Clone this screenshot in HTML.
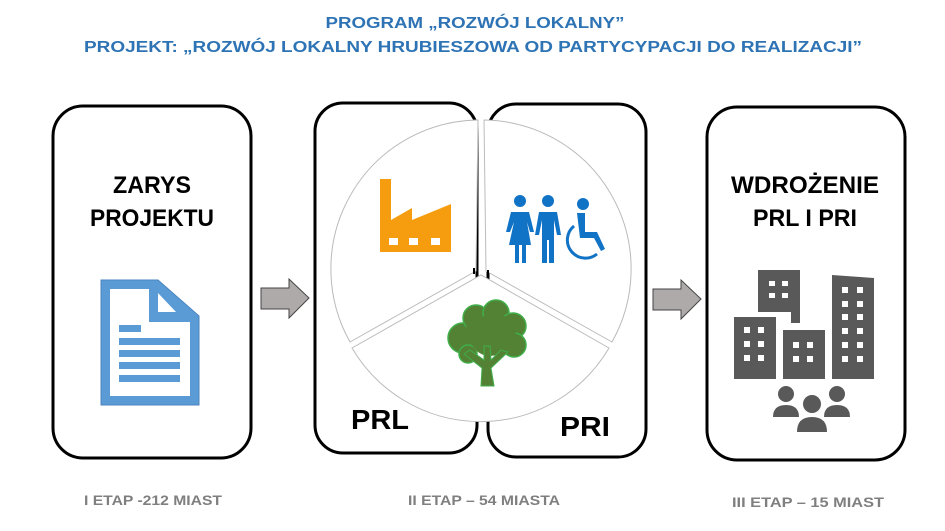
<!DOCTYPE html>
<html><head><meta charset="utf-8"><style>html,body{margin:0;padding:0;background:#fff}svg{display:block}</style></head>
<body>
<svg width="945" height="531" viewBox="0 0 945 531" xmlns="http://www.w3.org/2000/svg" font-family="Liberation Sans, sans-serif">
<text x="475" y="28" text-anchor="middle" font-size="16" font-weight="bold" fill="#2E74B5" textLength="299" lengthAdjust="spacingAndGlyphs">PROGRAM „ROZWÓJ LOKALNY”</text>
<text x="473" y="52" text-anchor="middle" font-size="16" font-weight="bold" fill="#2E74B5" textLength="778" lengthAdjust="spacingAndGlyphs">PROJEKT: „ROZWÓJ LOKALNY HRUBIESZOWA OD PARTYCYPACJI DO REALIZACJI”</text>

<!-- box 1 -->
<rect x="53" y="106" width="198" height="352" rx="30" fill="#fff" stroke="#000" stroke-width="3"/>
<text x="152" y="193" text-anchor="middle" font-size="24" font-weight="bold" textLength="78" lengthAdjust="spacingAndGlyphs">ZARYS</text>
<text x="152" y="226" text-anchor="middle" font-size="24" font-weight="bold" textLength="124" lengthAdjust="spacingAndGlyphs">PROJEKTU</text>
<path d="M101 280 H158 L199 316 V405 H101 Z" fill="#5B9BD5" stroke="#4A86C0"/>
<path d="M110 289 H149 V322 H190 V396 H110 Z" fill="#fff"/>
<path d="M158 293 L176 312 H158 Z" fill="#fff"/>
<rect x="119" y="325" width="22" height="7" fill="#5B9BD5"/>
<rect x="119" y="338" width="61" height="7" fill="#5B9BD5"/>
<rect x="119" y="350" width="61" height="7" fill="#5B9BD5"/>
<rect x="119" y="362" width="61" height="7" fill="#5B9BD5"/>
<rect x="119" y="375" width="61" height="7" fill="#5B9BD5"/>

<!-- arrows -->
<path d="M261 288 H289 V279 L309 298 L289 318 V309 H261 Z" fill="#AEAAAA" stroke="#444" stroke-width="1"/>
<path d="M653 289 H681 V280 L701 299 L681 319 V310 H653 Z" fill="#AEAAAA" stroke="#444" stroke-width="1"/>

<!-- PRL / PRI boxes -->
<rect x="315" y="103" width="162" height="350" rx="28" fill="#fff" stroke="#000" stroke-width="3"/>
<rect x="488" y="104" width="158" height="353" rx="28" fill="#fff" stroke="#000" stroke-width="3"/>

<!-- pie -->
<g stroke="#bbb" stroke-width="1" fill="#fff">
<path d="M478 120 A149 149 0 0 0 350 342 L476 271 Z"/>
<path d="M484 120 A149 149 0 0 1 612 342 L486 271 Z"/>
<path d="M352 348 A149 149 0 0 0 609 348 L481 275 Z"/>
</g>
<rect x="473" y="268" width="2" height="6" fill="#000"/>
<rect x="487" y="270" width="2" height="6" fill="#000"/>

<!-- factory -->
<path d="M380 252 V179 H391 V220 L412 208 V220 L451 204 V252 Z" fill="#F59D0E"/>
<rect x="389" y="238" width="9" height="7" fill="#fff"/>
<rect x="409" y="238" width="9" height="7" fill="#fff"/>
<rect x="431" y="238" width="9" height="7" fill="#fff"/>

<!-- people -->
<g fill="#1173C5">
<circle cx="520" cy="201" r="6"/>
<path d="M511 212 H529 L534 232 H530 L527 222 L531 245 H526 V263 H522 V245 H519 V263 H515 V245 H509 L514 222 L510 232 H506 Z"/>
<circle cx="548" cy="201" r="6"/>
<path d="M539 212 H557 L561 235 H557 L554 220 V263 H549 V240 H547 V263 H542 V220 L539 235 H535 Z"/>
<circle cx="583" cy="204" r="6"/>
<path d="M577 213 H585 L585 232 H597 L605 249 L601 251 L594 238 H580 Z"/>
<path d="M574 226 A18 18 0 1 0 597 254" fill="none" stroke="#1173C5" stroke-width="3"/>
</g>

<!-- tree -->
<g fill="#548235">
<g stroke="#3fae49" stroke-width="1.5">
<circle cx="463" cy="338" r="15"/><circle cx="476" cy="318" r="13"/><circle cx="496" cy="313" r="13"/>
<circle cx="513" cy="326" r="13"/><circle cx="514" cy="345" r="12"/><circle cx="468" cy="354" r="9"/>
</g>
<circle cx="490" cy="336" r="20"/><circle cx="480" cy="330" r="14"/><circle cx="502" cy="330" r="14"/>
<path d="M481 386 H494 L491 368 L508 352 L501 350 L491 360 L490 346 H484 L484 360 L470 350 L464 354 L482 368 Z" stroke="#3fae49" stroke-width="1"/>
</g>

<text x="351" y="429" font-size="28" font-weight="bold" textLength="58" lengthAdjust="spacingAndGlyphs">PRL</text>
<text x="560" y="436" font-size="28" font-weight="bold" textLength="50" lengthAdjust="spacingAndGlyphs">PRI</text>

<!-- box 4 -->
<rect x="707" y="107" width="198" height="353" rx="30" fill="#fff" stroke="#000" stroke-width="3"/>
<text x="805" y="193" text-anchor="middle" font-size="24" font-weight="bold" textLength="148" lengthAdjust="spacingAndGlyphs">WDROŻENIE</text>
<text x="805" y="226" text-anchor="middle" font-size="24" font-weight="bold" textLength="104" lengthAdjust="spacingAndGlyphs">PRL I PRI</text>
<g fill="#595959">
<path d="M758 270 H800 V323 H791 V312 H758 Z"/>
<rect x="734" y="317" width="42" height="62"/>
<rect x="783" y="330" width="42" height="49"/>
<path d="M832 275 L874 278 V379 H832 Z"/>
<circle cx="786" cy="394" r="8"/><path d="M773 417 Q773 405 786 405 Q799 405 799 417 Z"/>
<circle cx="837" cy="394" r="8"/><path d="M824 417 Q824 405 837 405 Q850 405 850 417 Z"/>
<circle cx="812" cy="404" r="9"/><path d="M797 432 Q797 417 812 417 Q827 417 827 432 Z"/>
</g>
<g fill="#fff">
<rect x="769" y="281" width="6" height="5"/><rect x="782" y="281" width="6" height="5"/><rect x="769" y="293" width="6" height="5"/><rect x="782" y="293" width="6" height="5"/>
<rect x="744" y="327" width="6" height="6"/><rect x="758" y="327" width="6" height="6"/><rect x="744" y="341" width="6" height="6"/><rect x="758" y="341" width="6" height="6"/><rect x="744" y="355" width="6" height="6"/><rect x="758" y="355" width="6" height="6"/>
<rect x="793" y="342" width="6" height="6"/><rect x="807" y="342" width="6" height="6"/><rect x="793" y="356" width="6" height="6"/><rect x="807" y="356" width="6" height="6"/>
<rect x="842" y="287" width="6" height="6"/><rect x="857" y="287" width="6" height="6"/><rect x="842" y="301" width="6" height="6"/><rect x="857" y="301" width="6" height="6"/><rect x="842" y="314" width="6" height="6"/><rect x="857" y="314" width="6" height="6"/><rect x="842" y="328" width="6" height="6"/><rect x="857" y="328" width="6" height="6"/><rect x="842" y="342" width="6" height="6"/><rect x="857" y="342" width="6" height="6"/><rect x="842" y="356" width="6" height="6"/><rect x="857" y="356" width="6" height="6"/>
</g>

<text x="153" y="505" text-anchor="middle" font-size="14" font-weight="bold" fill="#7F7F7F" textLength="138" lengthAdjust="spacingAndGlyphs">I ETAP -212 MIAST</text>
<text x="484" y="505" text-anchor="middle" font-size="14" font-weight="bold" fill="#7F7F7F" textLength="152" lengthAdjust="spacingAndGlyphs">II ETAP – 54 MIASTA</text>
<text x="808" y="507" text-anchor="middle" font-size="14" font-weight="bold" fill="#7F7F7F" textLength="152" lengthAdjust="spacingAndGlyphs">III ETAP – 15 MIAST</text>
</svg>
</body></html>
